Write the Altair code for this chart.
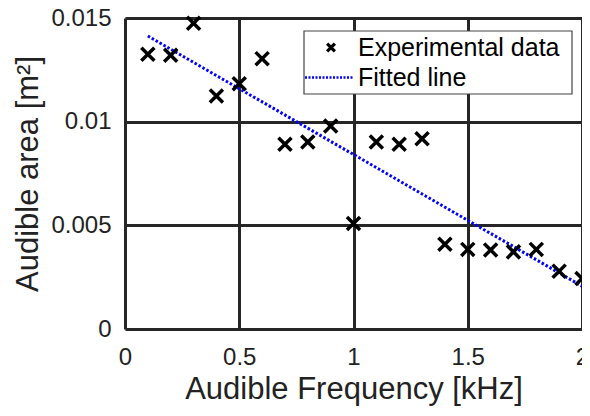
import altair as alt
import pandas as pd

# Experimental data
freq_khz = [0.1, 0.2, 0.3, 0.4, 0.5, 0.6, 0.7, 0.8, 0.9, 1.0,
            1.1, 1.2, 1.3, 1.4, 1.5, 1.6, 1.7, 1.8, 1.9, 2.0]
area_m2 = [0.01325, 0.0132, 0.01475, 0.01124, 0.01183, 0.01304, 0.00891, 0.00902,
           0.00979, 0.00509, 0.00902, 0.00891, 0.00918, 0.00409, 0.00384, 0.00381,
           0.00372, 0.00384, 0.00279, 0.00244]

# Fitted line (end points)
fit_x = [0.1, 2.0]
fit_y = [0.01413, 0.00207]

x_ticks = [0, 0.5, 1, 1.5, 2]
y_ticks = [0, 0.005, 0.01, 0.015]
legend_labels = ["Experimental data", "Fitted line"]

FONT = "Liberation Sans"
GRID = "#262626"
CROSS = "M-1,-1L1,1M-1,1L1,-1"

pts = pd.DataFrame({"f": freq_khz, "a": area_m2})
fit = pd.DataFrame({"f": fit_x, "a": fit_y})

xs = alt.Scale(domain=[0, 2], nice=False, zero=False)
ys = alt.Scale(domain=[0, 0.015], nice=False, zero=False)

xaxis = alt.Axis(values=x_ticks, labelExpr="format(datum.value, '~g')", title="Audible Frequency [kHz]",
                 grid=True, gridColor=GRID, gridWidth=3, gridOpacity=1, domain=False, ticks=False,
                 labelFont=FONT, labelFontSize=24, labelColor="#222", labelPadding=16,
                 titleFont=FONT, titleFontSize=31, titleFontWeight="normal", titleColor="#222",
                 titlePadding=5, labelFlush=False)
yaxis = alt.Axis(values=y_ticks, labelExpr="format(datum.value, '~g')", title="Audible area [m²]",
                 grid=True, gridColor=GRID, gridWidth=3, gridOpacity=1, domain=False, ticks=False,
                 labelFont=FONT, labelFontSize=24, labelColor="#222", labelPadding=14,
                 titleFont=FONT, titleFontSize=31, titleFontWeight="normal", titleColor="#222",
                 titlePadding=6, labelFlush=False)

points = alt.Chart(pts).mark_point(shape=CROSS, size=170, strokeWidth=3.5, color="black",
                                    filled=False, opacity=1).encode(
    x=alt.X("f:Q", scale=xs, axis=xaxis),
    y=alt.Y("a:Q", scale=ys, axis=yaxis),
)

line = alt.Chart(fit).mark_line(color="#0000ff", strokeWidth=3, strokeDash=[2.5, 2]).encode(
    x=alt.X("f:Q", scale=xs, axis=xaxis),
    y=alt.Y("a:Q", scale=ys, axis=yaxis),
)

# manual legend
one = pd.DataFrame({"k": [0]})
box = alt.Chart(one).mark_rect(fill="white", stroke="#444", strokeWidth=1.2).encode(
    x=alt.value(179), x2=alt.value(447), y=alt.value(13), y2=alt.value(76))
leg_cross = alt.Chart(one).mark_point(shape=CROSS, size=60, strokeWidth=3.2, color="black",
                                      filled=False, opacity=1).encode(
    x=alt.value(206), y=alt.value(29.5))
leg_line = alt.Chart(one).mark_rule(color="#0000ff", strokeWidth=2.5, strokeDash=[2, 1.5]).encode(
    x=alt.value(180), x2=alt.value(228), y=alt.value(59.5))
leg_text1 = alt.Chart(one).mark_text(align="left", baseline="middle", font=FONT, fontSize=25,
                                     color="black", text=legend_labels[0]).encode(
    x=alt.value(233), y=alt.value(30))
leg_text2 = alt.Chart(one).mark_text(align="left", baseline="middle", font=FONT, fontSize=25,
                                     color="black", text=legend_labels[1]).encode(
    x=alt.value(233), y=alt.value(60))

chart = alt.layer(line, points, box, leg_cross, leg_line, leg_text1, leg_text2).properties(
    width=457, height=311,
    autosize=alt.AutoSizeParams(type="none"),
    padding={"left": 117, "top": 10, "right": 0, "bottom": 78},
).configure_view(stroke=GRID, strokeWidth=3).configure(background="white")

chart.save("out.html", embed_options={"renderer": "svg", "actions": False})
